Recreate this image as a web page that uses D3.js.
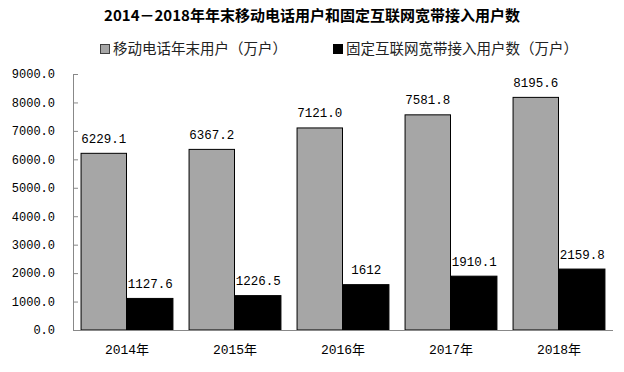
<!DOCTYPE html>
<html>
<head>
<meta charset="utf-8">
<script src="https://cdn.jsdelivr.net/npm/d3@7"></script>
<style>
  body { margin: 0; background: #fff; }
  text { font-family: "Liberation Mono", "Noto Sans CJK SC", monospace; }
</style>
</head>
<body>
<div id="chart"></div>
<script>
const years = ["2014年", "2015年", "2016年", "2017年", "2018年"];
const mobile = [6229.1, 6367.2, 7121.0, 7581.8, 8195.6];
const broadband = [1127.6, 1226.5, 1612, 1910.1, 2159.8];
const mobileLabels = ["6229.1", "6367.2", "7121.0", "7581.8", "8195.6"];
const broadbandLabels = ["1127.6", "1226.5", "1612", "1910.1", "2159.8"];
const seriesNames = ["移动电话年末用户（万户）", "固定互联网宽带接入用户数（万户）"];
const yTicks = [0, 1000, 2000, 3000, 4000, 5000, 6000, 7000, 8000, 9000];

const width = 624;
const height = 372;
const margin = {top: 74, right: 11, bottom: 42, left: 73};

const colors = ["#a6a6a6", "#000000"];

const svg = d3.select("#chart").append("svg")
    .attr("width", width)
    .attr("height", height);

const x0 = d3.scaleBand()
    .domain(years)
    .range([margin.left, width - margin.right])
    .paddingInner(0.14)
    .paddingOuter(0.07);

const x1 = d3.scaleBand()
    .domain([0, 1])
    .range([0, x0.bandwidth()]);

const y = d3.scaleLinear()
    .domain([0, 9000])
    .range([height - margin.bottom, margin.top]);

// title
svg.append("text")
    .attr("x", 312)
    .attr("y", 21)
    .attr("text-anchor", "middle")
    .style("font-family", "'Noto Sans CJK SC', sans-serif")
    .style("font-weight", "bold")
    .style("font-size", "15px")
    .text("2014－2018年年末移动电话用户和固定互联网宽带接入用户数");

// legend
const legendX = [100, 333];
seriesNames.forEach(function (name, i) {
    const g = svg.append("g").attr("transform", "translate(" + legendX[i] + ",44)");
    g.append("rect")
        .attr("x", 0.5)
        .attr("y", 0.5)
        .attr("width", 9)
        .attr("height", 9)
        .style("fill", colors[i])
        .style("stroke", i == 0 ? "#404040" : "#000");
    g.append("text")
        .attr("x", 13)
        .attr("y", 10)
        .style("font-family", "'Noto Sans CJK SC', sans-serif")
        .style("font-size", "14.5px")
        .style("fill", "#222")
        .text(name);
});

// y axis
const yAxis = svg.append("g")
    .attr("transform", "translate(" + margin.left + ",0)")
    .call(d3.axisLeft(y).tickValues(yTicks).tickSizeInner(-5).tickSizeOuter(0)
        .tickFormat(d3.format(".1f")));
yAxis.select(".domain").attr("stroke", "#888");
yAxis.selectAll(".tick line").attr("stroke", "#888");
yAxis.selectAll(".tick text")
    .attr("x", -18)
    .style("font-size", "12px")
    .style("fill", "#000");

// bars
const groups = svg.selectAll(".year")
    .data(years)
    .enter().append("g")
    .attr("class", "year")
    .attr("transform", d => "translate(" + x0(d) + ",0)");

const series = [mobile, broadband];
const labels = [mobileLabels, broadbandLabels];

series.forEach(function (vals, s) {
    groups.append("rect")
        .attr("x", x1(s) + 0.5)
        .attr("y", (d, i) => y(vals[i]) + 0.5)
        .attr("width", x1.bandwidth() - 1)
        .attr("height", (d, i) => y(0) - y(vals[i]) - 0.5)
        .style("fill", colors[s])
        .style("stroke", "#000")
        .style("stroke-width", 1);

    groups.append("text")
        .attr("x", x1(s) + x1.bandwidth() / 2)
        .attr("y", (d, i) => y(vals[i]) - 10)
        .attr("text-anchor", "middle")
        .style("font-size", "12.5px")
        .text((d, i) => labels[s][i]);
});

// x axis
const xAxis = svg.append("g")
    .attr("transform", "translate(0," + y(0) + ")")
    .call(d3.axisBottom(x0).tickSize(0).tickSizeOuter(0));
xAxis.select(".domain")
    .attr("stroke", "#888")
    .attr("d", "M" + margin.left + ",0.5H" + (width - margin.right));
xAxis.selectAll(".tick text")
    .attr("y", 15)
    .style("font-size", "13px")
    .style("fill", "#000");
</script>
</body>
</html>
